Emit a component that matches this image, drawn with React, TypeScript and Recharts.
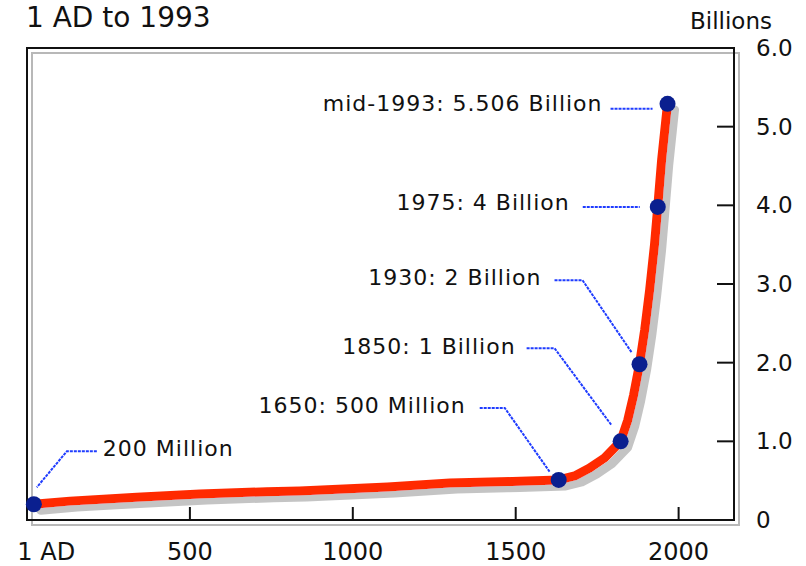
import React from 'react';
import { ComposedChart, Line, ReferenceArea, Scatter, XAxis, YAxis } from 'recharts';

// world population curve (years AD, billions)
const years = [21, 132, 337, 531, 736, 837, 1107, 1298, 1491, 1632, 1681, 1727, 1773, 1822, 1844, 1862, 1880, 1896, 1911, 1926, 1936, 1948, 1966];
const population = [0.2, 0.24, 0.29, 0.33, 0.36, 0.37, 0.42, 0.47, 0.49, 0.51, 0.56, 0.66, 0.79, 1.0, 1.27, 1.59, 1.98, 2.42, 2.92, 3.5, 3.98, 4.58, 5.29];

const milestoneYears = [21, 1632, 1822, 1880, 1936, 1966];
const milestoneValues = [0.2, 0.51, 1.0, 1.98, 3.98, 5.29];
const milestoneLabels = [
  '200 Million',
  '1650: 500 Million',
  '1850: 1 Billion',
  '1930: 2 Billion',
  '1975: 4 Billion',
  'mid-1993: 5.506 Billion'
];

const xTicks = [1, 500, 1000, 1500, 2000];
const xTickLabels = ['1 AD', '500', '1000', '1500', '2000'];
const yTicks = [0, 1, 2, 3, 4, 5, 6];
const yTickLabels = ['0', '1.0', '2.0', '3.0', '4.0', '5.0', '6.0'];

// callout layout, pixels relative to each dot
const callouts: Array<{ anchor: 'start' | 'end'; dx: number; dy: number; leader: number[][] }> = [
  { anchor: 'start', dx: 69, dy: -56, leader: [[63, -53], [33, -53], [3, -17]] },
  { anchor: 'end', dx: -93, dy: -74, leader: [[-79, -72], [-54, -72], [-9, -8]] },
  { anchor: 'end', dx: -105, dy: -95, leader: [[-94, -93], [-66, -93], [-9, -16]] },
  { anchor: 'end', dx: -98, dy: -87, leader: [[-85, -84], [-57, -84], [-8, -12]] },
  { anchor: 'end', dx: -88, dy: -4, leader: [[-75, 0], [-18, 0]] },
  { anchor: 'end', dx: -65, dy: 0, leader: [[-57, 5], [-15, 5]] }
];

const FONT = '"DejaVu Sans", sans-serif';

const lineData = years.map((year, i) => ({ year, pop: population[i] }));
const milestoneData = milestoneYears.map((year, i) => ({ year, pop: milestoneValues[i], idx: i }));

const Milestone = (props: any) => {
  const { cx, cy, payload } = props;
  const c = callouts[payload.idx];
  const pts = c.leader.map(([dx, dy]) => `${cx + dx},${cy + dy}`).join(' ');
  return (
    <g>
      <polyline points={pts} fill="none" stroke="#1f3cff" strokeWidth={2} strokeDasharray="3 1" />
      <text
        x={cx + c.dx}
        y={cy + c.dy}
        textAnchor={c.anchor}
        dominantBaseline="central"
        fontFamily={FONT}
        fontSize={22}
        letterSpacing={1}
        fill="#111"
      >
        {milestoneLabels[payload.idx]}
      </text>
      <circle cx={cx} cy={cy} r={8} fill="#0a1f8f" />
    </g>
  );
};

const XTick = (props: any) => {
  const { x, y, payload } = props;
  const i = xTicks.indexOf(payload.value);
  const first = i === 0;
  return (
    <g>
      {!first && <line x1={x} y1={y} x2={x} y2={y - 13} stroke="#111" strokeWidth={2} />}
      <text
        x={first ? x - 10 : x}
        y={y + 40}
        textAnchor={first ? 'start' : 'middle'}
        fontFamily={FONT}
        fontSize={24}
        fill="#111"
      >
        {xTickLabels[i]}
      </text>
    </g>
  );
};

const YTick = (props: any) => {
  const { x, y, payload } = props;
  const i = yTicks.indexOf(payload.value);
  const edge = i === 0 || i === yTicks.length - 1;
  return (
    <g>
      {!edge && <line x1={x - 17} y1={y} x2={x} y2={y} stroke="#111" strokeWidth={2} />}
      <text x={x + 22} y={y + 8} textAnchor="start" fontFamily={FONT} fontSize={23} fill="#111">
        {yTickLabels[i]}
      </text>
    </g>
  );
};

const Frame = (props: any) => {
  const { x, y, width, height } = props;
  return (
    <g>
      <rect x={x + 5} y={y + 5} width={width} height={height} fill="none" stroke="#b8b8b8" strokeWidth={2} />
      <rect x={x} y={y} width={width} height={height} fill="none" stroke="#111" strokeWidth={2} />
    </g>
  );
};

export default function App() {
  return (
    <div style={{ position: 'absolute', left: 0, top: 0, width: 806, height: 566, background: '#fff' }}>
      <ComposedChart width={806} height={566} margin={{ top: 48, right: 0, bottom: 0, left: 27 }}>
        <XAxis
          type="number"
          dataKey="year"
          domain={[0, 2170]}
          ticks={xTicks}
          interval={0}
          height={46}
          tickSize={0}
          tickMargin={0}
          axisLine={false}
          tickLine={false}
          tick={XTick}
        />
        <YAxis
          orientation="right"
          type="number"
          domain={[0, 6]}
          ticks={yTicks}
          interval={0}
          width={72}
          tickSize={0}
          tickMargin={0}
          axisLine={false}
          tickLine={false}
          tick={YTick}
        />
        <ReferenceArea x1={0} x2={2170} y1={0} y2={6} shape={Frame} />
        <Line
          data={lineData}
          dataKey="pop"
          type="linear"
          stroke="#ff2a00"
          strokeWidth={9}
          strokeLinejoin="round"
          strokeLinecap="round"
          dot={false}
          activeDot={false}
          filter="url(#popShadow)"
          isAnimationActive={false}
        />
        <Scatter data={milestoneData} dataKey="pop" shape={Milestone} isAnimationActive={false} />
      </ComposedChart>
      <svg
        width={806}
        height={566}
        style={{ position: 'absolute', left: 0, top: 0, pointerEvents: 'none' }}
      >
        <defs>
          <filter id="popShadow" filterUnits="userSpaceOnUse" x="0" y="0" width="806" height="566">
            <feOffset in="SourceAlpha" dx="7" dy="6" result="off" />
            <feFlood floodColor="#c4c4c4" />
            <feComposite in2="off" operator="in" result="shadow" />
            <feMerge>
              <feMergeNode in="shadow" />
              <feMergeNode in="SourceGraphic" />
            </feMerge>
          </filter>
        </defs>
        <text x={26} y={27} fontFamily={FONT} fontSize={28} fill="#111">
          1 AD to 1993
        </text>
        <text x={690} y={29} fontFamily={FONT} fontSize={23} fill="#111">
          Billions
        </text>
      </svg>
    </div>
  );
}
